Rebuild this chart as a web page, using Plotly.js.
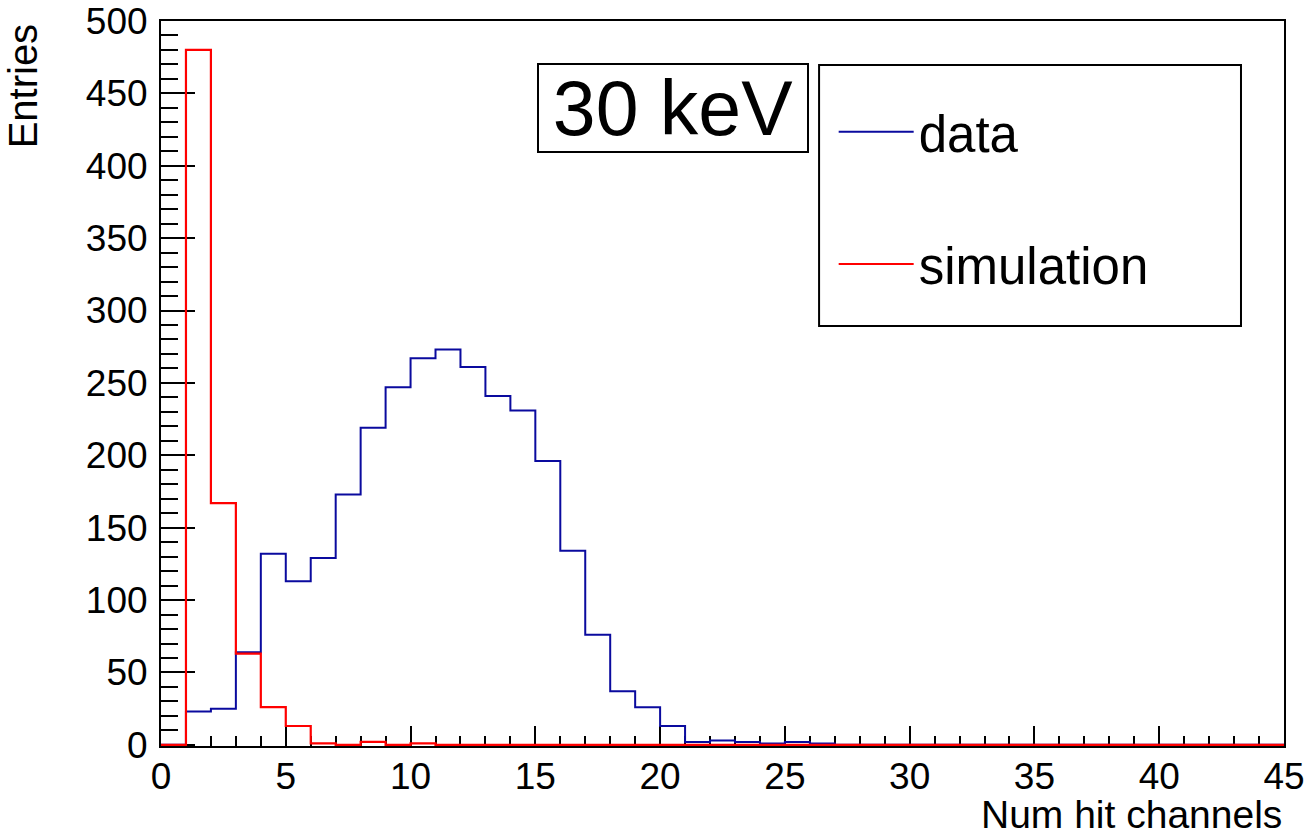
<!DOCTYPE html>
<html>
<head>
<meta charset="utf-8">
<script src="https://cdn.plot.ly/plotly-3.0.1.min.js"></script>
<style>html,body{margin:0;padding:0;background:#fff;}#chart{width:1306px;height:839px;}</style>
</head>
<body>
<div id="chart"></div>
<script>
// Bin lower edges (Num hit channels), bin width 1
const binLow = [0,1,2,3,4,5,6,7,8,9,10,11,12,13,14,15,16,17,18,19,20,21,22,23,24,25,26,27,28,29,30,31,32,33,34,35,36,37,38,39,40,41,42,43,44];
const binUpperEdge = 45;
// Entries per bin
const dataCounts = [0,23,25,64,132,113,129,173,219,247,267,273,261,241,231,196,134,76,37,26,13,2,3,2,1,2,1,0,0,0,0,0,0,0,0,0,0,0,0,0,0,0,0,0,0];
const simCounts  = [0,480,167,63,26,13,1,0,2,0,1,0,0,0,0,0,0,0,0,0,0,0,0,0,0,0,0,0,0,0,0,0,0,0,0,0,0,0,0,0,0,0,0,0,0];
const seriesNames = ["data", "simulation"];
const xTickLabels = ["0","5","10","15","20","25","30","35","40","45"];
const yTickLabels = ["0","50","100","150","200","250","300","350","400","450","500"];
const energyLabel = "30 keV";
const xTitle = "Num hit channels";
const yTitle = "Entries";

function stepX() { return binLow.concat([binUpperEdge]); }
function stepY(c) { return c.concat([c[c.length-1]]); }

const FONT = "'Liberation Sans', Arial, Helvetica, sans-serif";

const traces = [
  {x: stepX(), y: stepY(dataCounts), type: 'scatter', mode: 'lines', name: seriesNames[0],
   line: {shape: 'hv', color: '#0a0a9e', width: 2}, legendgroup: 'a'},
  {x: stepX(), y: stepY(simCounts), type: 'scatter', mode: 'lines', name: seriesNames[1],
   line: {shape: 'hv', color: '#ff0000', width: 2.2}, legendgroup: 'b'}
];

const xTickVals = xTickLabels.map(Number);
const yTickVals = yTickLabels.map(Number);

const layout = {
  width: 1306, height: 839,
  margin: {l: 161, r: 22, t: 21, b: 93},
  paper_bgcolor: '#fff', plot_bgcolor: '#fff',
  font: {family: FONT, color: '#000'},
  showlegend: true,
  legend: {x: 0.599, y: 0.902, xanchor: 'left', yanchor: 'top', bgcolor: 'rgba(0,0,0,0)',
           borderwidth: 0, font: {size: 51, family: FONT, color: '#000'},
           traceorder: 'grouped', tracegroupgap: 63, itemwidth: 75},
  xaxis: {range: [0, 45], tickmode: 'array', tickvals: xTickVals, ticktext: xTickLabels,
          ticks: 'inside', ticklen: 20, tickwidth: 2, tickcolor: '#000', layer: 'below traces',
          showline: true, linewidth: 2, linecolor: '#000', mirror: true, ticklabelstandoff: -3,
          showgrid: false, zeroline: false, tickfont: {size: 37, family: FONT, color: '#000'},
          minor: {dtick: 1, tick0: 0, ticks: 'inside', ticklen: 10, tickwidth: 2, tickcolor: '#000', showgrid: false}},
  yaxis: {range: [-0.8, 500], tickmode: 'array', tickvals: yTickVals, ticktext: yTickLabels,
          ticks: 'inside', ticklen: 34, tickwidth: 2, tickcolor: '#000', layer: 'below traces',
          showline: true, linewidth: 2, linecolor: '#000', mirror: true,
          showgrid: false, zeroline: false, tickfont: {size: 37, family: FONT, color: '#000'},
          ticklabelstandoff: 4,
          minor: {dtick: 10, tick0: 0, ticks: 'inside', ticklen: 17, tickwidth: 2, tickcolor: '#000', showgrid: false}},
  shapes: [
    {type: 'rect', xref: 'paper', yref: 'paper', x0: 0.586, x1: 0.9617, y0: 0.5793, y1: 0.9393,
     line: {color: '#000', width: 2}, fillcolor: 'rgba(0,0,0,0)', layer: 'above'}
  ],
  annotations: [
    {xref: 'paper', yref: 'paper', x: 0.3348, y: 0.942, xanchor: 'left', yanchor: 'top',
     text: energyLabel, showarrow: false, font: {size: 77, family: FONT, color: '#000'},
     bordercolor: '#000', borderwidth: 2, borderpad: 0, width: 268, height: 86, bgcolor: '#fff', align: 'center'},
    {xref: 'paper', yref: 'paper', x: 1.0, y: -0.095, xanchor: 'right', yanchor: 'middle',
     text: xTitle, showarrow: false, font: {size: 39, family: FONT, color: '#000'}},
    {xref: 'paper', yref: 'paper', x: -0.123, y: 1.0, xanchor: 'center', yanchor: 'top', textangle: -90,
     text: yTitle, showarrow: false, font: {size: 40, family: FONT, color: '#000'}}
  ]
};

Plotly.newPlot('chart', traces, layout, {displayModeBar: false, staticPlot: true});
</script>
</body>
</html>
